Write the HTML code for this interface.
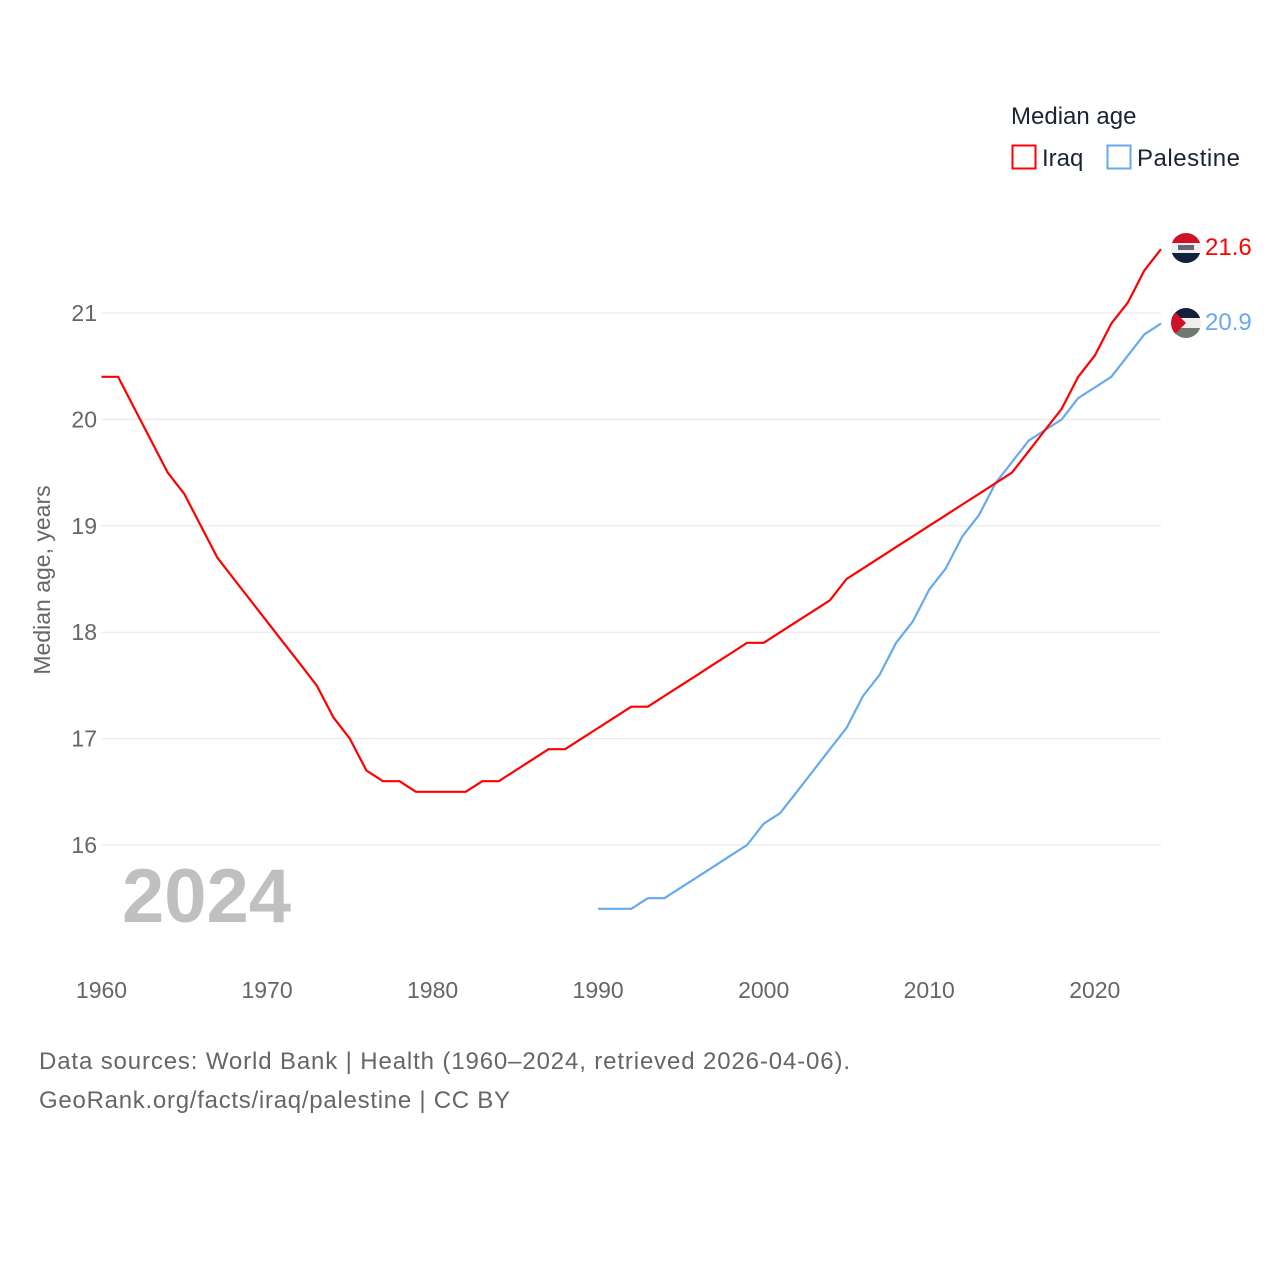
<!DOCTYPE html>
<html><head><meta charset="utf-8"><style>
body{margin:0;background:#fff;width:1280px;height:1280px;overflow:hidden;font-family:"Liberation Sans",sans-serif}
</style></head><body>
<svg id="chart" width="1280" height="1280" xmlns="http://www.w3.org/2000/svg" font-family="Liberation Sans, sans-serif">
<g id="grid"></g>
<g id="yticks"></g>
<g id="xticks"></g>
<text transform="translate(50,580) rotate(-90)" text-anchor="middle" font-size="23" fill="#666">Median age, years</text>
<text x="122" y="922" font-size="76" font-weight="bold" fill="#bfc0bf">2024</text>
<g id="series"></g>
<g>
<text x="1011" y="124" font-size="24" fill="#1a2433">Median age</text>
<g><rect x="1012.5" y="145.5" width="23" height="23" fill="none" stroke="#ff0000" stroke-width="2"/><text x="1042" y="166" font-size="24" fill="#1a2433">Iraq</text></g>
<g><rect x="1107.5" y="145.5" width="23" height="23" fill="none" stroke="#66aaee" stroke-width="2"/><text x="1137" y="166" font-size="24" fill="#1a2433" textLength="103">Palestine</text></g>
</g>
<defs>
<clipPath id="c1"><circle cx="1186" cy="248" r="15"/></clipPath>
<clipPath id="c2"><circle cx="1186" cy="323" r="15"/></clipPath>
</defs>
<g clip-path="url(#c1)">
<rect x="1171" y="233" width="30" height="10" fill="#ce1126"/><rect x="1171" y="243" width="30" height="10" fill="#eee"/><rect x="1171" y="253" width="30" height="10" fill="#14213d"/>
<rect x="1178" y="245" width="16" height="5" fill="#667"/>
</g>
<g clip-path="url(#c2)">
<rect x="1171" y="308" width="30" height="10" fill="#14213d"/><rect x="1171" y="318" width="30" height="10" fill="#eee"/><rect x="1171" y="328" width="30" height="10" fill="#6e7a70"/>
<polygon points="1171,308 1186,323 1171,338" fill="#ce1126"/>
</g>
<text x="1205" y="255" font-size="24" fill="#ff0000">21.6</text>
<text x="1205" y="330" font-size="24" fill="#66aaee">20.9</text>
<text x="39" y="1069" font-size="24" fill="#666" textLength="811">Data sources: World Bank | Health (1960–2024, retrieved 2026-04-06).</text>
<text x="39" y="1108" font-size="24" fill="#666" textLength="471">GeoRank.org/facts/iraq/palestine | CC BY</text>
</svg>
<script>
const yTicks=[16,17,18,19,20,21];
const xTicks=[1960,1970,1980,1990,2000,2010,2020];
const iraqYears=[];for(let y=1960;y<=2024;y++)iraqYears.push(y);
const iraqValues=[20.4,20.4,20.1,19.8,19.5,19.3,19.0,18.7,18.5,18.3,18.1,17.9,17.7,17.5,17.2,17.0,16.7,16.6,16.6,16.5,16.5,16.5,16.5,16.6,16.6,16.7,16.8,16.9,16.9,17.0,17.1,17.2,17.3,17.3,17.4,17.5,17.6,17.7,17.8,17.9,17.9,18.0,18.1,18.2,18.3,18.5,18.6,18.7,18.8,18.9,19.0,19.1,19.2,19.3,19.4,19.5,19.7,19.9,20.1,20.4,20.6,20.9,21.1,21.4,21.6];
const palYears=[];for(let y=1990;y<=2024;y++)palYears.push(y);
const palValues=[15.4,15.4,15.4,15.5,15.5,15.6,15.7,15.8,15.9,16.0,16.2,16.3,16.5,16.7,16.9,17.1,17.4,17.6,17.9,18.1,18.4,18.6,18.9,19.1,19.4,19.6,19.8,19.9,20.0,20.2,20.3,20.4,20.6,20.8,20.9];
const NS='http://www.w3.org/2000/svg';
const X0=101.5,X1=1161,Y16=845,PU=106.4;
const xs=y=>X0+(y-1960)*(X1-X0)/64;
const ys=v=>Y16-(v-16)*PU;
function mk(t,a,p){const e=document.createElementNS(NS,t);for(const k in a)e.setAttribute(k,a[k]);p.appendChild(e);return e;}
const grid=document.getElementById('grid'),yt=document.getElementById('yticks'),xt=document.getElementById('xticks'),ser=document.getElementById('series');
yTicks.forEach(v=>{
 const l=mk('line',{x1:X0,x2:X1,y1:ys(v),y2:ys(v),stroke:'#e6e6e6','stroke-width':1},grid);
 
 
 const t=mk('text',{x:97,y:ys(v)+8,'text-anchor':'end','font-size':23,fill:'#666'},yt);
 t.textContent=v;
 
 
});
xTicks.forEach(v=>{
 const t=mk('text',{x:xs(v),y:998,'text-anchor':'middle','font-size':23,fill:'#666'},xt);
 t.textContent=v;
 
 
});
function line(yrs,vals,col,name){
 const d=yrs.map((y,i)=>(i?'L':'M')+xs(y).toFixed(1)+','+ys(vals[i]).toFixed(1)).join('');
 const p=mk('path',{d:d,fill:'none',stroke:col,'stroke-width':2.2,'stroke-linejoin':'round'},ser);
 
 
}
line(palYears,palValues,'#66aaee','palestine-line');
line(iraqYears,iraqValues,'#ff0000','iraq-line');
</script>
</body></html>
